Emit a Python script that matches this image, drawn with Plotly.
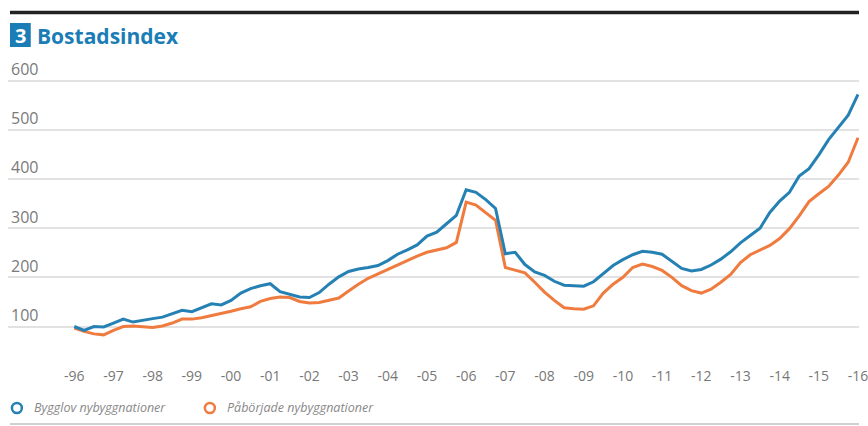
import plotly.graph_objects as go

# Quarterly data 1996Q1 .. 2016Q1
start_year = 1996
bygglov = [100, 92, 100, 99, 107, 115, 109, 113, 116, 119, 126, 133, 130, 138, 146, 144,
           153, 168, 177, 183, 187, 171, 165, 160, 159, 169, 186, 201, 212, 217, 220, 224,
           234, 247, 256, 266, 284, 292, 309, 326, 378, 373, 358, 340, 248, 251, 226, 211,
           204, 192, 184, 183, 182, 191, 208, 224, 236, 246, 253, 251, 247, 233, 218, 213,
           216, 225, 237, 252, 270, 285, 300, 332, 355, 373, 406, 421, 449, 480, 505, 530, 572]
paborjade = [97, 90, 85, 83, 92, 100, 101, 100, 98, 101, 107, 115, 115, 118, 122, 127,
             131, 136, 140, 151, 157, 160, 159, 151, 148, 149, 153, 158, 172, 186, 198, 207,
             216, 226, 235, 243, 251, 256, 260, 271, 353, 347, 331, 316, 220, 214, 209, 190,
             170, 153, 138, 136, 135, 142, 168, 186, 200, 220, 227, 222, 214, 200, 183, 173,
             168, 176, 190, 206, 230, 246, 255, 265, 279, 299, 325, 354, 370, 385, 408, 434, 484]
time = [start_year + i / 4 for i in range(len(bygglov))]

series_names = ["Bygglov nybyggnationer", "Påbörjade nybyggnationer"]
series_colors = ["#2580b3", "#f07b3f"]

year_ticks = list(range(1996, 2017))
year_labels = ["-" + str(y)[2:] for y in year_ticks]
y_ticks = [100, 200, 300, 400, 500, 600]

title_number = "3"
title_text = "Bostadsindex"

W, H = 868, 426
fig = go.Figure()
# orange first so the blue line is drawn on top
for vals, name, col in zip([paborjade, bygglov], series_names[::-1], series_colors[::-1]):
    fig.add_trace(go.Scatter(x=time, y=vals, mode="lines", name=name,
                             line=dict(color=col, width=3), showlegend=False))

px_per_year = 39.6
left_px = 8
x0 = 1996 - (75 - left_px) / px_per_year
x1 = x0 + (W - left_px) / px_per_year

font_fam = "Open Sans, DejaVu Sans, sans-serif"
fig.update_layout(
    width=W, height=H,
    margin=dict(l=left_px, r=0, t=61, b=70),
    paper_bgcolor="white", plot_bgcolor="white",
    xaxis=dict(range=[x0, x1], tickvals=year_ticks, ticktext=year_labels,
               showgrid=False, zeroline=False, showline=False, ticks="",
               ticklabelstandoff=10, ticklabeloverflow="allow",
               tickfont=dict(family=font_fam, size=14, color="#777777")),
    yaxis=dict(range=[40, 640], tickvals=y_ticks, showgrid=True,
               gridcolor="#e2e2e2", gridwidth=1.5, zeroline=False, showline=False,
               ticks="", ticklabelposition="inside top", ticklabeloverflow="allow",
               tickfont=dict(family=font_fam, size=16, color="#7a7a7a")),
    shapes=[
        dict(type="line", xref="paper", yref="paper", x0=2 / (W - left_px), x1=1.0,
             y0=1 + (61 - 12.5) / (H - 131), y1=1 + (61 - 12.5) / (H - 131),
             line=dict(color="#222222", width=3.5)),
        dict(type="line", xref="paper", yref="paper", x0=2 / (W - left_px), x1=1.0,
             y0=-(70 - 2) / (H - 131), y1=-(70 - 2) / (H - 131),
             line=dict(color="#d0d0d0", width=2)),
    ],
)

plot_h = H - 61 - 70
plot_w = W - left_px
def px(xp):
    return (xp - left_px) / plot_w
def py(yp):
    return (H - 70 - yp) / plot_h

fig.add_shape(type="rect", xref="paper", yref="paper", x0=px(10), x1=px(31), y0=py(47), y1=py(23),
              fillcolor="#1b7db5", line=dict(width=0))
fig.add_annotation(xref="paper", yref="paper", x=px(20.5), y=py(35), text="<b>" + title_number + "</b>",
                   showarrow=False, font=dict(family=font_fam, size=20, color="white"),
                   xanchor="center", yanchor="middle")
fig.add_annotation(xref="paper", yref="paper", x=px(35), y=py(36), text="<b>" + title_text + "</b>",
                   showarrow=False, font=dict(family=font_fam, size=21, color="#1b7db5"),
                   xanchor="left", yanchor="middle")

legend_x = [17, 212]
for lx, name, col in zip(legend_x, series_names, series_colors):
    fig.add_shape(type="circle", xref="paper", yref="paper",
                  x0=px(lx - 5), x1=px(lx + 5), y0=py(413), y1=py(403),
                  line=dict(color=col, width=2.5), fillcolor="white")
    fig.add_annotation(xref="paper", yref="paper", x=px(lx + 15), y=py(408),
                       text="<i>" + name + "</i>", showarrow=False,
                       font=dict(family=font_fam, size=12.5, color="#888888"),
                       xanchor="left", yanchor="middle")

fig.write_html("out.html")
